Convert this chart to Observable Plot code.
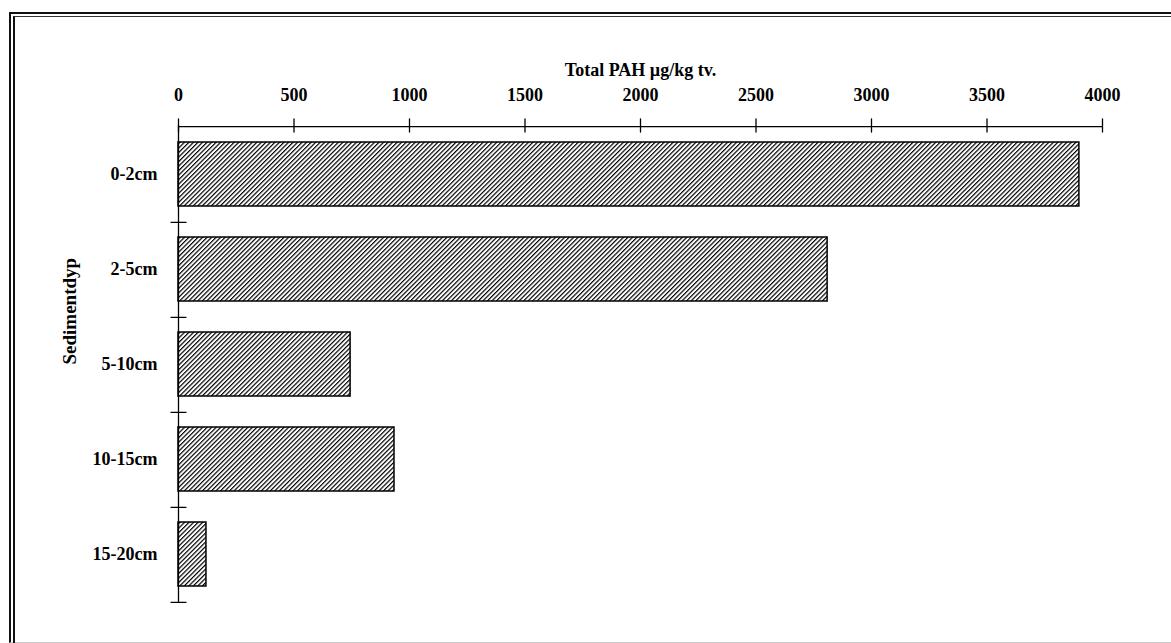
<!DOCTYPE html>
<html>
<head>
<meta charset="utf-8">
<script src="https://cdn.jsdelivr.net/npm/d3@7"></script>
<script src="https://cdn.jsdelivr.net/npm/@observablehq/plot@0.6"></script>
<style>
  html, body { margin: 0; padding: 0; background: #fff; overflow: hidden; }
  #wrap { position: relative; width: 1171px; height: 643px; }
  #frame-outer { position: absolute; left: 9px; top: 12px; right: -20px; bottom: 0px;
    border-left: 2px solid #111; border-top: 2px solid #111; border-bottom: 1px solid #ccc; }
  #frame-inner { position: absolute; left: 13px; top: 16px; right: -20px; bottom: -5px;
    border-left: 2px solid #111; border-top: 1px solid #333; }
  svg { position: absolute; left: 0; top: 0; }
</style>
</head>
<body>
<div id="wrap">
  <div id="frame-outer"></div>
  <div id="frame-inner"></div>
</div>
<script>
const categories = ["0-2cm", "2-5cm", "5-10cm", "10-15cm", "15-20cm"];
const values = [3900, 2810, 745, 935, 121];
const xTicks = [0, 500, 1000, 1500, 2000, 2500, 3000, 3500, 4000];
const xLabel = "Total PAH µg/kg tv.";
const yLabel = "Sedimentdyp";

const data = categories.map((c, i) => ({cat: c, value: values[i]}));

const W = 1171, H = 643, mT = 125, mB = 40, mL = 178, mR = 69;
const step = (H - mT - mB) / categories.length;
const font = "'Liberation Serif', 'Times New Roman', serif";

const lineShape = {draw(ctx, l) { ctx.moveTo(0, 0); ctx.lineTo(0, -l); }};

const plot = Plot.plot({
  width: W,
  height: H,
  marginTop: mT,
  marginBottom: mB,
  marginLeft: mL,
  marginRight: mR,
  style: {fontFamily: font, fontWeight: "bold", fontSize: "18px", color: "#000", background: "transparent"},
  x: {domain: [0, 4000]},
  y: {domain: categories, paddingInner: 0.33, paddingOuter: 0.165},
  marks: [
    Plot.barX(data, {x: "value", y: "cat", fill: "url(#hatch)", stroke: "#000", strokeWidth: 1.5}),
    // axis lines
    Plot.ruleX([0], {stroke: "#000", strokeWidth: 1.3}),
    Plot.ruleY([categories[0]], {x1: 0, x2: 4000, dy: -step / 2, stroke: "#000", strokeWidth: 1.3}),
    // x ticks crossing the axis
    Plot.vector(xTicks, {x: d => d, frameAnchor: "top", length: 13, anchor: "middle", shape: lineShape, stroke: "#000", strokeWidth: 1.3}),
    // y ticks at band boundaries crossing the axis
    Plot.vector(categories, {y: d => d, dy: step / 2, frameAnchor: "left", rotate: 90, length: 15, anchor: "middle", shape: lineShape, stroke: "#000", strokeWidth: 1.3}),
    Plot.axisX(xTicks, {anchor: "top", tickSize: 0, tickPadding: 25, label: null, tickFormat: d => String(d), fontSize: 18, fontWeight: "bold"}),
    Plot.axisY({anchor: "left", tickSize: 0, tickPadding: 21, label: null, fontSize: 18, fontWeight: "bold"}),
    Plot.text([xLabel], {frameAnchor: "top", dy: -62, fontSize: 18, fontWeight: "bold"}),
    Plot.text([yLabel], {frameAnchor: "left", dx: -109, rotate: -90, fontSize: 19, fontWeight: "bold"})
  ]
});

// hatch pattern definition
const ns = "http://www.w3.org/2000/svg";
const defs = document.createElementNS(ns, "defs");
const pat = document.createElementNS(ns, "pattern");
pat.setAttribute("id", "hatch");
pat.setAttribute("patternUnits", "userSpaceOnUse");
pat.setAttribute("width", "3.2");
pat.setAttribute("height", "3.2");
pat.setAttribute("patternTransform", "rotate(45)");
const bg = document.createElementNS(ns, "rect");
bg.setAttribute("width", "3.2"); bg.setAttribute("height", "3.2"); bg.setAttribute("fill", "#fff");
const ln = document.createElementNS(ns, "line");
ln.setAttribute("x1", "0"); ln.setAttribute("y1", "0");
ln.setAttribute("x2", "0"); ln.setAttribute("y2", "3.2");
ln.setAttribute("stroke", "#000"); ln.setAttribute("stroke-width", "2.4");
pat.appendChild(bg); pat.appendChild(ln);
defs.appendChild(pat);
plot.insertBefore(defs, plot.firstChild);

document.getElementById("wrap").appendChild(plot);
</script>
</body>
</html>
